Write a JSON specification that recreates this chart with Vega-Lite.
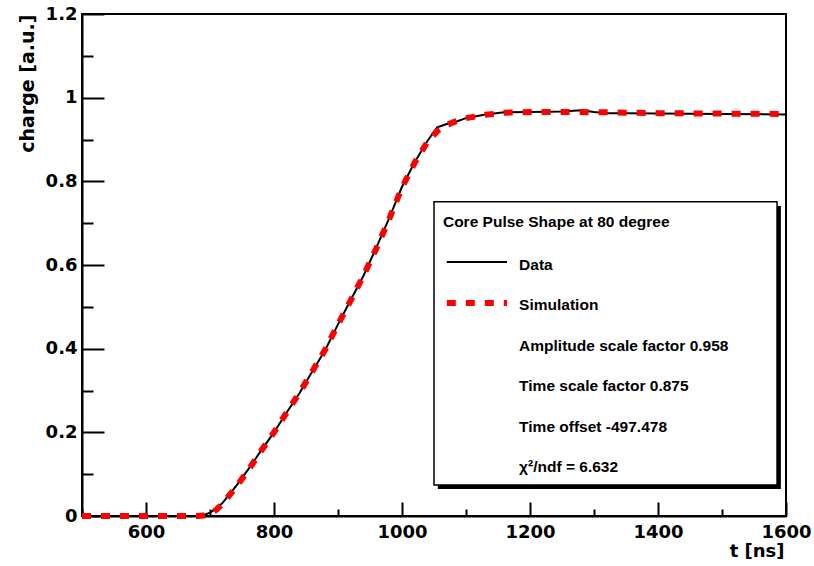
{
  "$schema": "https://vega.github.io/schema/vega-lite/v6.json",
  "width": 704,
  "height": 502,
  "autosize": "none",
  "padding": {"left": 82, "top": 14, "right": 28, "bottom": 50},
  "background": "white",
  "config": {
    "view": {"stroke": "black", "strokeWidth": 2},
    "axis": {
      "grid": false,
      "domainColor": "black",
      "domainWidth": 2,
      "tickColor": "black",
      "tickWidth": 2,
      "labelFont": "DejaVu Sans",
      "labelFontWeight": "bold",
      "labelFontSize": 18,
      "labelColor": "black",
      "labelFlush": false,
      "labelOverlap": false,
      "titleFont": "DejaVu Sans",
      "titleFontWeight": "bold",
      "titleFontSize": 18,
      "titleColor": "black"
    }
  },
  "datasets": {
    "pulse": [
      {"t": 500, "data": 0, "sim": 0},
      {"t": 550, "data": 0, "sim": 0},
      {"t": 600, "data": 0, "sim": 0},
      {"t": 650, "data": 0, "sim": 0},
      {"t": 680, "data": 0, "sim": 0},
      {"t": 690, "data": 0.002, "sim": 0.001},
      {"t": 700, "data": 0.008, "sim": 0.005},
      {"t": 710, "data": 0.018, "sim": 0.015},
      {"t": 720, "data": 0.032, "sim": 0.03},
      {"t": 740, "data": 0.07, "sim": 0.068},
      {"t": 760, "data": 0.112, "sim": 0.11},
      {"t": 780, "data": 0.157, "sim": 0.156},
      {"t": 800, "data": 0.2, "sim": 0.2},
      {"t": 820, "data": 0.248, "sim": 0.248},
      {"t": 840, "data": 0.294, "sim": 0.295},
      {"t": 860, "data": 0.346, "sim": 0.346},
      {"t": 880, "data": 0.397, "sim": 0.398},
      {"t": 900, "data": 0.458, "sim": 0.458},
      {"t": 920, "data": 0.517, "sim": 0.516},
      {"t": 940, "data": 0.575, "sim": 0.575},
      {"t": 960, "data": 0.642, "sim": 0.64},
      {"t": 980, "data": 0.712, "sim": 0.71},
      {"t": 1000, "data": 0.787, "sim": 0.785},
      {"t": 1020, "data": 0.846, "sim": 0.845},
      {"t": 1040, "data": 0.897, "sim": 0.895},
      {"t": 1055, "data": 0.929, "sim": 0.92},
      {"t": 1070, "data": 0.937, "sim": 0.935},
      {"t": 1085, "data": 0.943, "sim": 0.944},
      {"t": 1100, "data": 0.951, "sim": 0.951},
      {"t": 1130, "data": 0.96, "sim": 0.959},
      {"t": 1160, "data": 0.965, "sim": 0.964},
      {"t": 1200, "data": 0.966, "sim": 0.966},
      {"t": 1250, "data": 0.967, "sim": 0.966},
      {"t": 1280, "data": 0.97, "sim": 0.966},
      {"t": 1300, "data": 0.966, "sim": 0.965},
      {"t": 1320, "data": 0.963, "sim": 0.965},
      {"t": 1350, "data": 0.963, "sim": 0.964},
      {"t": 1400, "data": 0.962, "sim": 0.963},
      {"t": 1500, "data": 0.961, "sim": 0.962},
      {"t": 1600, "data": 0.96, "sim": 0.961}
    ],
    "legend": [
      {"title": "Core Pulse Shape at 80 degree"}
    ]
  },
  "layer": [
    {
      "data": {"name": "pulse"},
      "mark": {"type": "line", "color": "black", "strokeWidth": 2},
      "encoding": {
        "x": {
          "field": "t",
          "type": "quantitative",
          "scale": {"domain": [500, 1600], "nice": false, "zero": false},
          "axis": {
            "values": [500,550,600,650,700,750,800,850,900,950,1000,1050,1100,1150,1200,1250,1300,1350,1400,1450,1500,1550,1600],
            "labelExpr": "datum.value % 200 === 0 ? format(datum.value, 'd') : ''",
            "tickSize": {"condition": {"test": "datum.value % 200 === 0", "value": -14}, "value": -7},
            "labelPadding": 21,
            "title": "t [ns]",
            "titleAlign": "right",
            "titleAnchor": "end",
            "titleBaseline": "alphabetic",
            "titleX": 702,
            "titleY": 40
          }
        },
        "y": {
          "field": "data",
          "type": "quantitative",
          "scale": {"domain": [0, 1.2], "nice": false},
          "axis": {
            "values": [0,0.05,0.1,0.15,0.2,0.25,0.3,0.35,0.4,0.45,0.5,0.55,0.6,0.65,0.7,0.75,0.8,0.85,0.9,0.95,1,1.05,1.1,1.15,1.2],
            "labelExpr": "round(datum.value*100) % 20 === 0 ? format(datum.value, '.1~f') : ''",
            "tickSize": {"condition": {"test": "round(datum.value*100) % 20 === 0", "value": -22}, "value": -11},
            "labelPadding": 27,
            "title": "charge [a.u.]",
            "titleFontSize": 19,
            "titleAlign": "right",
            "titleAnchor": "end",
            "titleBaseline": "alphabetic",
            "titleAngle": 270,
            "titleX": -49,
            "titleY": 0
          }
        }
      }
    },
    {
      "data": {"name": "pulse"},
      "mark": {"type": "line", "color": "#ff0000", "strokeWidth": 6, "strokeDash": [9, 10], "strokeCap": "butt"},
      "encoding": {
        "x": {"field": "t", "type": "quantitative"},
        "y": {"field": "sim", "type": "quantitative"}
      }
    },
    {
      "data": {"name": "legend"},
      "mark": {"type": "rect", "color": "black"},
      "encoding": {
        "x": {"datum": 1056},
        "x2": {"datum": 1592},
        "y": {"datum": 0.741},
        "y2": {"datum": 0.0645}
      }
    },
    {
      "data": {"name": "legend"},
      "mark": {"type": "rect", "fill": "white", "stroke": "black", "strokeWidth": 1.5},
      "encoding": {
        "x": {"datum": 1050},
        "x2": {"datum": 1586},
        "y": {"datum": 0.751},
        "y2": {"datum": 0.074}
      }
    },
    {
      "data": {"name": "legend"},
      "mark": {"type": "rule", "color": "black", "strokeWidth": 2},
      "encoding": {
        "x": {"datum": 1070},
        "x2": {"datum": 1164},
        "y": {"datum": 0.607}
      }
    },
    {
      "data": {"name": "legend"},
      "mark": {"type": "rule", "color": "#ff0000", "strokeWidth": 6, "strokeDash": [9, 10], "strokeCap": "butt"},
      "encoding": {
        "x": {"datum": 1070},
        "x2": {"datum": 1164},
        "y": {"datum": 0.509}
      }
    },
    {
      "data": {"name": "legend"},
      "mark": {"type": "text", "font": "Liberation Sans", "fontWeight": "bold", "fontSize": 15.5, "align": "left", "baseline": "alphabetic", "color": "black"},
      "encoding": {
        "text": {"field": "title"},
        "x": {"datum": 1064},
        "y": {"datum": 0.691}
      }
    },
    {
      "data": {"name": "legend"},
      "mark": {"type": "text", "text": ["Data", "Simulation", "Amplitude scale factor 0.958", "Time scale factor 0.875", "Time offset -497.478", "χ²/ndf = 6.632"], "lineHeight": 40.4, "font": "Liberation Sans", "fontWeight": "bold", "fontSize": 15.5, "align": "left", "baseline": "alphabetic", "color": "black"},
      "encoding": {
        "x": {"datum": 1183},
        "y": {"datum": 0.588}
      }
    }
  ]
}
